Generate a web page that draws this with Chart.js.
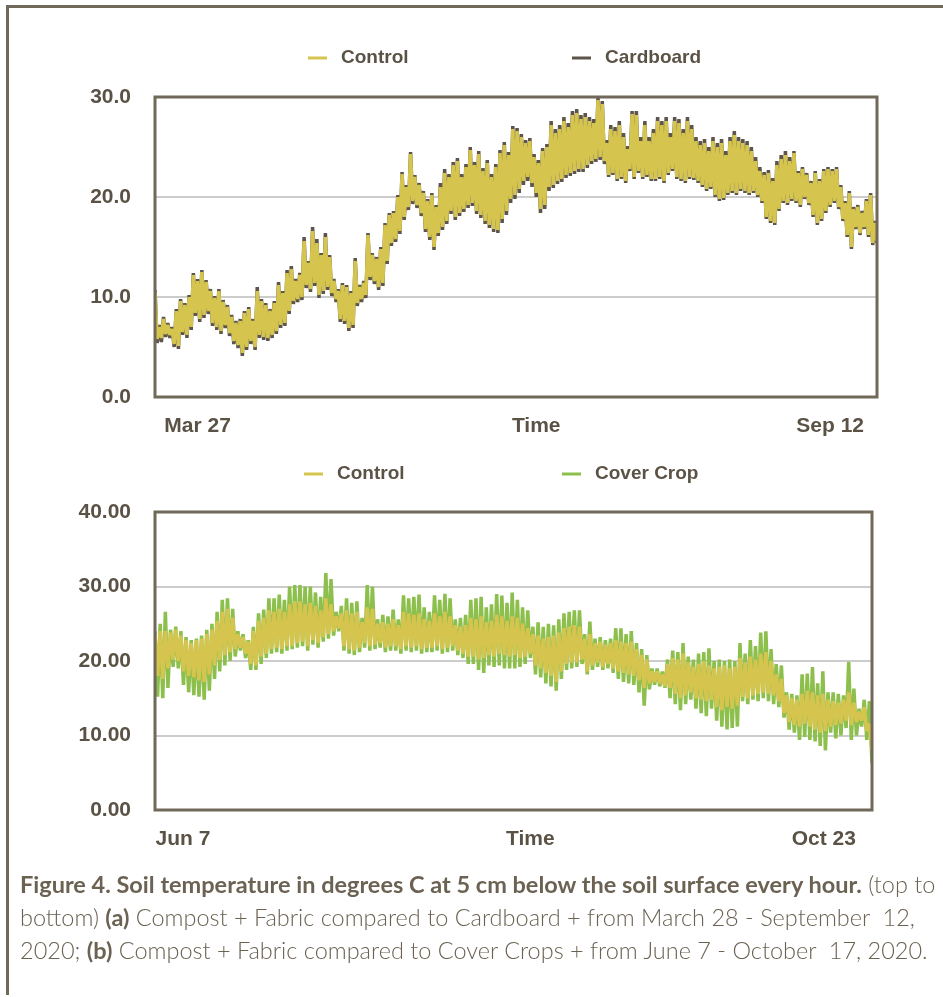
<!DOCTYPE html>
<html>
<head>
<meta charset="utf-8">
<script src="https://cdn.jsdelivr.net/npm/chart.js@4.4.1/dist/chart.umd.min.js"></script>
<style>
body{margin:0;background:#fff;width:943px;height:997px;position:relative;overflow:hidden;}
#frame{position:absolute;left:6px;top:5px;right:-10px;height:987px;border-top:3px solid #706858;border-left:3px solid #706858;}
canvas{position:absolute;left:0;}
#c1{top:0;}
#c2{top:450px;}
#caption{position:absolute;left:20px;top:868px;font-family:Lato,"Open Sans",sans-serif;font-size:23.5px;line-height:33px;color:#6b6253;white-space:nowrap;font-weight:300;}
#caption b{font-weight:700;}
</style>
</head>
<body>
<div id="frame"></div>
<canvas id="c1" width="943" height="450"></canvas>
<canvas id="c2" width="943" height="420"></canvas>
<div id="caption"><b>Figure 4. Soil temperature in degrees C at 5 cm below the soil surface every hour.</b> (top to<br>bottom) <b>(a)</b> Compost + Fabric compared to Cardboard + from March 28 - September&nbsp; 12,<br>2020; <b>(b)</b> Compost + Fabric compared to Cover Crops + from June 7 - October&nbsp; 17, 2020.</div>
<script>
// soil temp at 5 cm: daily high, daily low, ... (one pair per day)
const topLabels = ['Mar 27','Time','Sep 12'];
const controlTop = [
 10.5,5.8, 7.0,5.9, 7.8,6.3, 7.2,6.2, 6.8,5.3, 8.6,5.1, 9.6,6.5, 9.2,6.2, 10.0,7.0, 12.2,8.4,
 11.6,7.8, 12.5,8.2, 11.5,8.6, 10.6,7.4, 9.9,7.0, 10.6,6.6, 9.5,7.2, 9.0,6.4, 8.0,5.6, 7.4,5.2,
 7.6,4.4, 8.4,5.0, 8.8,5.6, 7.6,5.0, 10.6,6.2, 9.6,6.0, 9.2,5.9, 8.6,6.2, 9.4,6.6, 11.2,7.2,
 10.4,7.4, 12.4,8.6, 12.8,9.6, 11.6,9.8, 12.2,10.0, 15.6,11.2, 13.4,10.8, 16.6,11.4, 15.4,10.2, 14.2,10.6,
 16.0,11.0, 14.0,10.4, 11.6,9.8, 10.6,7.8, 11.2,7.6, 11.0,6.9, 10.4,7.2, 13.6,9.4, 11.0,9.8, 11.4,10.2,
 16.2,12.0, 14.2,11.6, 13.8,11.0, 14.8,11.4, 17.2,13.6, 18.2,15.4, 18.4,15.8, 20.0,16.6, 22.3,18.0, 21.0,19.0,
 24.3,19.6, 22.0,19.2, 21.2,18.4, 20.4,16.8, 19.6,16.0, 20.2,15.0, 19.0,16.4, 21.0,17.0, 22.4,17.6, 22.0,18.6,
 23.2,18.0, 23.6,18.4, 22.0,18.8, 23.0,19.2, 24.7,19.4, 23.2,18.6, 24.3,18.2, 22.6,17.6, 23.4,17.2, 22.0,16.8,
 23.0,16.7, 24.4,17.8, 25.2,18.6, 24.2,19.8, 26.8,20.2, 26.6,20.8, 26.0,21.6, 25.4,22.0, 25.6,21.4, 24.0,20.4,
 23.4,18.8, 24.6,19.2, 25.0,21.0, 27.2,21.2, 26.4,21.6, 26.8,21.8, 27.6,22.2, 27.0,22.4, 28.2,22.6, 28.4,22.8,
 27.8,22.8, 28.0,23.2, 27.6,23.6, 27.4,23.8, 29.7,24.0, 29.3,23.6, 25.4,22.2, 26.8,22.4, 26.6,21.8, 27.2,22.0,
 26.0,21.6, 24.8,22.8, 28.3,22.0, 28.2,22.6, 25.6,22.0, 27.2,22.2, 25.6,21.8, 26.4,21.8, 27.6,22.0, 27.2,21.6,
 27.6,22.4, 26.0,22.8, 27.6,22.0, 27.4,21.8, 26.4,21.6, 27.6,22.0, 26.8,21.9, 25.6,21.6, 25.2,21.2, 25.4,20.8,
 24.6,21.0, 25.6,20.2, 25.0,19.8, 25.4,19.9, 24.2,20.4, 25.6,20.6, 26.2,20.4, 25.6,20.8, 25.4,20.6, 25.2,20.4,
 24.6,20.6, 23.6,20.2, 22.6,19.6, 22.2,18.0, 22.4,17.6, 21.6,17.4, 23.2,18.8, 23.8,19.6, 24.2,19.4, 23.6,19.8,
 24.4,19.6, 22.4,19.2, 22.8,20.0, 22.2,19.4, 21.4,18.2, 22.4,17.4, 21.6,17.8, 22.6,18.6, 22.8,19.2, 22.6,19.6,
 22.8,19.0, 21.0,17.8, 19.4,16.2, 20.4,15.0, 18.8,17.0, 19.0,16.4, 18.4,17.0, 19.6,16.2, 20.2,15.4, 17.4,15.6
];
const cardboardTop = [
 10.7,5.4, 7.2,5.5, 8.0,6.0, 7.4,5.9, 7.0,5.0, 8.8,4.8, 9.8,6.2, 9.4,5.9, 10.2,6.7, 12.4,8.1,
 11.8,7.5, 12.7,7.9, 11.7,8.3, 10.8,7.1, 10.1,6.7, 10.8,6.3, 9.7,6.9, 9.2,6.1, 8.2,5.3, 7.6,4.9,
 7.8,4.1, 8.6,4.7, 9.0,5.3, 7.8,4.7, 11.0,5.9, 9.8,5.7, 9.4,5.6, 8.8,5.9, 9.6,6.3, 11.5,6.9,
 10.6,7.1, 12.7,8.3, 13.1,9.3, 11.8,9.5, 12.4,9.7, 16.0,10.9, 13.6,10.5, 17.0,11.1, 15.8,9.9, 14.4,10.3,
 16.4,10.7, 14.2,10.1, 11.8,9.5, 10.8,7.5, 11.4,7.3, 11.2,6.6, 10.6,6.9, 13.9,9.1, 11.2,9.5, 11.6,9.9,
 16.4,11.7, 14.4,11.3, 14.0,10.7, 15.0,11.1, 17.4,13.3, 18.4,15.1, 18.6,15.5, 20.2,16.3, 22.5,17.7, 21.2,18.7,
 24.5,19.3, 22.2,18.9, 21.4,18.1, 20.6,16.5, 19.8,15.7, 20.4,14.7, 19.2,16.1, 21.4,16.7, 22.8,17.3, 22.3,18.3,
 23.5,17.7, 23.9,18.1, 22.3,18.5, 23.3,18.9, 25.0,19.1, 23.5,18.3, 24.6,17.9, 22.9,17.3, 23.7,16.9, 22.3,16.5,
 23.3,16.4, 24.7,17.4, 25.5,18.2, 24.5,19.4, 27.1,19.8, 26.9,20.4, 26.3,21.2, 25.7,21.6, 25.9,21.0, 24.3,20.0,
 23.7,18.4, 24.9,18.8, 25.3,20.6, 27.6,20.9, 26.8,21.3, 27.2,21.5, 28.0,21.9, 27.4,22.1, 28.6,22.3, 28.8,22.5,
 28.2,22.5, 28.4,22.9, 28.0,23.3, 27.8,23.5, 30.0,23.7, 29.6,23.3, 25.7,22.0, 27.2,22.2, 27.0,21.6, 27.6,21.8,
 26.4,21.4, 25.1,22.6, 28.6,21.8, 28.6,22.4, 26.0,21.8, 27.6,22.0, 26.0,21.6, 26.8,21.6, 28.0,21.8, 27.6,21.4,
 28.0,22.2, 26.4,22.6, 28.0,21.8, 27.8,21.6, 26.8,21.4, 28.0,21.8, 27.2,21.7, 26.0,21.4, 25.6,21.0, 25.8,20.6,
 25.0,20.8, 26.0,20.0, 25.4,19.6, 25.8,19.7, 24.6,20.2, 26.0,20.4, 26.6,20.2, 26.0,20.6, 25.8,20.4, 25.6,20.2,
 25.0,20.4, 24.0,20.0, 23.0,19.4, 22.5,17.8, 22.7,17.4, 21.9,17.2, 23.6,18.6, 24.2,19.4, 24.6,19.2, 24.0,19.6,
 24.6,19.4, 22.6,19.0, 23.0,19.8, 22.4,19.2, 21.6,18.0, 22.6,17.2, 21.8,17.6, 22.8,18.4, 23.0,19.0, 22.8,19.4,
 23.0,18.8, 21.2,17.6, 19.6,16.0, 20.6,14.8, 19.0,16.8, 19.2,16.2, 18.6,16.8, 19.8,16.0, 20.4,15.2, 17.6,15.4
];

const bottomLabels = ['Jun 7','Time','Oct 23'];
const controlBottom = [
 23.5,18.0, 24.0,17.6, 24.0,19.0, 23.8,20.2, 24.2,20.0, 23.4,18.6, 22.8,18.0, 22.4,17.8, 22.8,17.4, 23.0,17.2,
 23.6,18.2, 24.2,19.4, 25.4,20.2, 26.6,20.8, 27.0,21.2, 25.8,21.6, 23.6,21.8, 23.2,21.0, 22.6,19.6, 24.0,19.4,
 25.4,20.6, 25.8,21.0, 26.8,21.6, 26.6,21.8, 27.0,21.6, 26.6,22.0, 27.6,22.0, 28.0,22.4, 28.0,22.6, 27.6,22.0,
 27.8,22.8, 27.4,22.4, 26.8,23.2, 28.4,23.6, 27.6,24.0, 26.0,24.4, 26.4,22.0, 26.8,21.6, 26.4,21.4, 26.6,21.8,
 25.2,22.4, 27.2,22.0, 27.0,22.2, 25.0,22.4, 25.2,21.8, 25.0,22.0, 25.6,22.0, 24.8,21.6, 26.6,22.0, 26.4,21.8,
 26.2,22.0, 26.4,21.6, 25.6,21.8, 25.4,21.8, 26.4,22.0, 26.0,21.6, 26.6,21.8, 26.0,22.0, 24.8,21.4, 24.6,21.0,
 24.8,20.6, 25.8,20.6, 25.6,20.2, 26.0,20.4, 25.2,20.8, 25.4,20.6, 26.2,21.0, 26.0,20.8, 25.4,20.6, 26.0,20.8,
 25.8,20.4, 25.0,20.6, 24.4,21.0, 23.6,19.4, 23.4,19.0, 23.0,18.4, 23.2,18.0, 23.4,17.2, 23.8,18.6, 24.4,19.6,
 24.6,19.8, 24.8,19.8, 24.6,20.2, 23.0,18.6, 23.6,19.4, 22.4,19.8, 22.6,19.2, 22.2,19.6, 22.4,19.0, 22.8,18.6,
 22.6,18.4, 22.4,18.2, 22.6,18.0, 21.6,17.4, 20.8,16.4, 20.2,17.0, 18.6,17.2, 18.6,17.0, 18.2,16.6, 19.6,16.4,
 20.4,15.6, 20.2,15.0, 21.0,15.4, 19.8,15.8, 19.2,15.0, 19.6,14.8, 20.0,14.6, 19.4,14.8, 19.0,13.8, 19.2,13.4,
 19.4,13.8, 19.0,13.6, 19.2,14.0, 20.4,15.2, 19.8,15.0, 20.6,15.4, 20.2,15.6, 21.0,15.8, 21.2,15.6, 20.0,15.4,
 18.2,14.6, 17.6,13.0, 15.4,11.8, 15.0,11.4, 14.8,11.2, 15.6,11.6, 16.0,11.2, 15.8,10.8, 15.4,10.4, 15.6,10.6,
 14.8,11.2, 14.6,11.4, 14.4,11.6, 14.8,12.0, 15.8,11.4, 14.4,11.8, 13.2,12.0, 13.8,10.6, 11.6,8.0
];
const coverBottom = [
 24.0,15.2, 25.0,15.0, 26.6,16.4, 24.2,19.2, 24.6,19.0, 24.0,16.8, 23.2,15.8, 22.8,15.4, 23.0,15.2, 23.4,14.8,
 24.2,16.0, 25.0,17.6, 26.6,18.6, 28.2,19.4, 28.4,20.0, 27.0,20.6, 24.0,21.4, 23.6,20.4, 22.8,18.8, 24.6,18.8,
 26.4,19.6, 26.9,20.4, 28.4,21.0, 28.4,21.2, 28.9,21.0, 28.2,21.4, 30.0,21.6, 30.2,21.8, 30.2,22.0, 30.0,21.4,
 30.0,22.2, 29.2,21.8, 28.6,22.6, 31.8,23.0, 31.0,23.4, 26.6,24.0, 27.4,21.4, 28.4,21.0, 27.8,20.8, 28.0,21.2,
 25.8,21.8, 30.2,21.4, 30.0,21.6, 25.6,21.8, 26.2,21.2, 26.0,21.4, 26.9,21.4, 25.6,21.0, 28.8,21.4, 28.4,21.2,
 28.6,21.4, 28.9,21.0, 27.2,21.2, 26.6,21.2, 28.8,21.4, 28.2,21.0, 29.0,21.2, 28.4,21.4, 25.6,20.8, 25.8,20.4,
 26.2,19.6, 28.2,19.6, 28.4,18.8, 28.6,18.4, 27.2,19.4, 27.6,19.2, 29.0,19.4, 28.8,19.0, 27.8,19.0, 29.2,19.0,
 28.2,19.2, 27.2,19.6, 26.8,20.4, 24.6,18.2, 25.2,17.8, 24.6,17.0, 25.0,16.6, 24.8,16.0, 25.6,17.6, 26.4,18.8,
 26.6,19.0, 26.8,19.2, 26.8,19.6, 23.6,18.2, 25.3,18.8, 23.0,19.2, 23.2,18.8, 22.8,19.0, 23.0,18.4, 24.4,17.6,
 24.4,17.2, 23.6,17.0, 24.0,16.8, 22.4,15.8, 21.6,14.0, 20.8,16.2, 19.0,16.8, 19.0,16.6, 18.6,16.4, 20.2,15.0,
 21.4,14.2, 21.2,13.4, 22.4,14.2, 20.6,14.8, 20.2,13.6, 21.0,13.0, 21.2,12.6, 21.7,13.6, 20.0,12.0, 20.2,11.2,
 20.0,10.8, 20.2,11.0, 20.0,11.2, 22.4,14.6, 21.0,14.2, 22.8,14.8, 22.0,14.6, 23.8,15.0, 24.0,14.6, 21.6,14.2,
 19.6,13.8, 19.4,12.4, 15.8,10.8, 15.6,10.4, 15.4,9.4, 18.2,9.8, 18.3,9.4, 19.2,9.2, 17.0,8.6, 18.6,8.0,
 15.8,10.4, 15.8,9.6, 15.6,10.0, 15.4,11.0, 19.9,9.4, 16.3,10.0, 13.6,11.2, 14.8,9.4, 14.6,6.3
];

const ink = '#5b5246';
const fam = '"Liberation Sans", Arial, sans-serif';

// half-day steps: high, low, high, low...
function series(vals){ return vals.map((v,i)=>({x:i/2, y:v})); }

const framePlugin = {
  id:'plotFrame',
  afterDraw(chart){
    const a = chart.chartArea, ctx = chart.ctx;
    ctx.save();
    ctx.strokeStyle = '#706858'; ctx.lineWidth = 3;
    ctx.strokeRect(a.left, a.top, a.right-a.left, a.bottom-a.top);
    ctx.restore();
  }
};

// legend placed like the original (wide gap between the two entries)
const legendPlugin = {
  id:'spreadLegend',
  afterDraw(chart, args, opts){
    const ctx = chart.ctx;
    ctx.save();
    ctx.font = 'bold 19px ' + fam;
    ctx.textBaseline = 'middle';
    chart.data.datasets.forEach((d,i)=>{
      const x = opts.xs[i], y = opts.y;
      ctx.fillStyle = d.borderColor;
      ctx.fillRect(x, y-1.5, 19, 3);
      ctx.fillStyle = ink;
      ctx.fillText(d.label, x+33, y);
    });
    ctx.restore();
  }
};

function makeChart(id, o){
  return new Chart(document.getElementById(id),{
    type:'line',
    data:{datasets:o.sets.map(s=>({
      label:s.label, data:series(s.values),
      borderColor:s.color, backgroundColor:s.color,
      borderWidth:3.5, pointRadius:0, borderJoinStyle:'bevel', tension:0
    }))},
    plugins:[framePlugin, legendPlugin],
    options:{
      responsive:false, animation:false, events:[],
      layout:{padding:{top:o.top, right:o.right, left:0, bottom:0}},
      plugins:{legend:{display:false}, tooltip:{enabled:false}, spreadLegend:{xs:o.legendX, y:o.legendY}},
      scales:{
        x:{type:'linear', min:0, max:o.xMax,
          afterFit:s=>{ s.height = o.xHeight; },
          afterBuildTicks:s=>{ s.ticks = o.tickAt.map(v=>({value:v})); },
          ticks:{callback:(v,i)=>o.tickText[i], autoSkip:false, maxRotation:0, padding:17,
                 color:ink, font:{family:fam, size:21, weight:'bold'}},
          grid:{display:false, drawTicks:false}, border:{display:false}},
        y:{min:0, max:o.yMax,
          afterFit:s=>{ s.width = 155; },
          ticks:{stepSize:10, callback:v=>v.toFixed(o.dec), padding:24,
                 color:ink, font:{family:fam, size:21, weight:'bold'}},
          grid:{color:'#cccccc', lineWidth:2, drawTicks:false}, border:{display:false}}
      }
    }
  });
}

makeChart('c1',{
  sets:[{label:'Control', values:controlTop, color:'#d5c54e'},
        {label:'Cardboard', values:cardboardTop, color:'#5d554a'}],
  xMax:169.5, yMax:30, dec:1, top:97, right:66, xHeight:53,
  tickAt:[10, 89.5, 158.5], tickText:topLabels,
  legendX:[308, 572], legendY:58
});

makeChart('c2',{
  sets:[{label:'Control', values:controlBottom, color:'#d5c54e'},
        {label:'Cover Crop', values:coverBottom, color:'#8cbf4c'}],
  xMax:138.5, yMax:40, dec:2, top:62, right:71, xHeight:60,
  tickAt:[5.4, 72.5, 129.2], tickText:bottomLabels,
  legendX:[304, 562], legendY:24
});
</script>
</body>
</html>
